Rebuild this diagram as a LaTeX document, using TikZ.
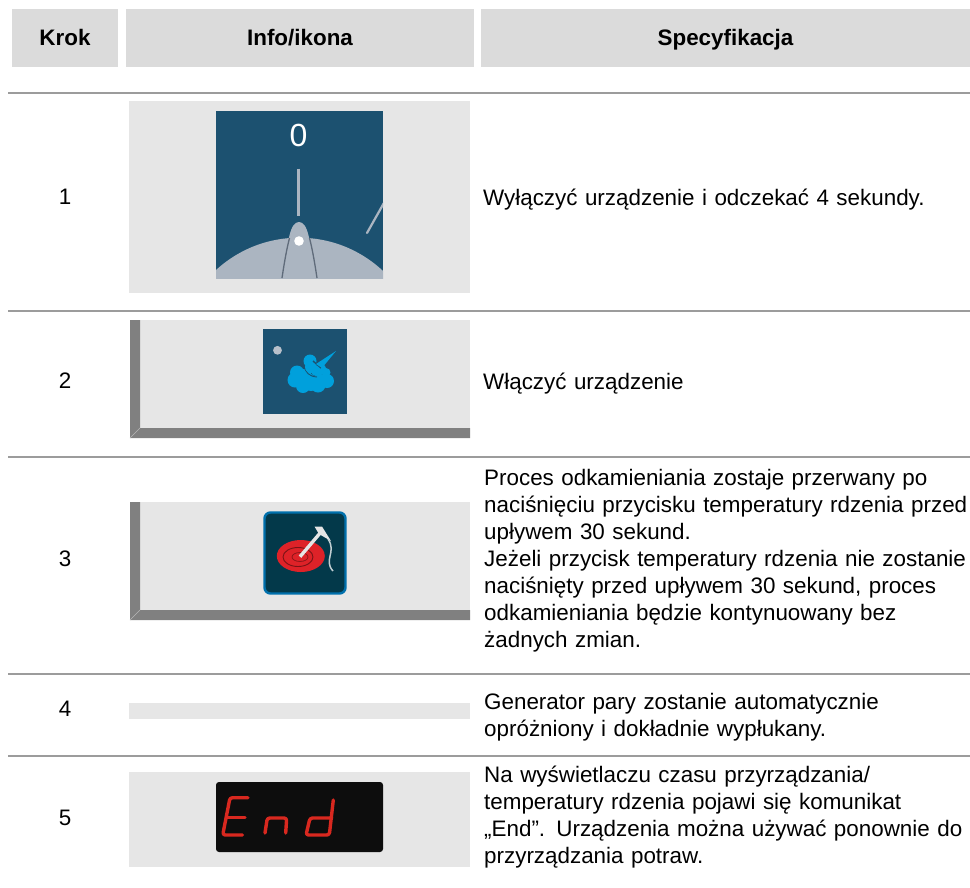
\documentclass[tikz,border=0pt]{standalone}
\usepackage{fontspec}
\setmainfont{Liberation Sans}
\definecolor{headg}{HTML}{DBDBDB}
\definecolor{cellg}{HTML}{E6E6E6}
\definecolor{ruleg}{HTML}{9C9C9C}
\definecolor{barg}{HTML}{808080}
\definecolor{iconb}{HTML}{1C5170}
\definecolor{domeg}{HTML}{ABB5C1}
\definecolor{domel}{HTML}{5F6B7A}
\definecolor{steam}{HTML}{00A0DC}
\definecolor{darkt}{HTML}{03394A}
\definecolor{edgeb}{HTML}{0070AC}
\definecolor{redc}{HTML}{DE2228}
\definecolor{segr}{HTML}{D8281F}
\newcommand{\firstline}{\rule{0pt}{20pt}}
\tikzset{
 headbox/.style={fill=headg,draw=none,minimum height=58pt,inner sep=0pt,text height=18pt,text depth=4pt,font=\fontsize{22.4}{27}\selectfont\bfseries},
 rowrule/.style={draw=ruleg,line width=2.6pt},
 stepnum/.style={font=\fontsize{22.4}{27}\selectfont,inner sep=0pt},
 spec/.style={anchor=north west,align=left,inner sep=0pt,text width=495pt,font=\fontsize{22.4}{27}\selectfont},
 cell/.style={fill=cellg,draw=none},
 bar/.style={fill=barg,draw=none},
 mitre/.style={draw=cellg!55!barg,line width=.4pt},
 seg/.style={draw=segr,line width=3.4pt,line cap=round,line join=round,rounded corners=2.5pt}
}
\begin{document}
\begin{tikzpicture}[x=1pt,y=-1pt]
\useasboundingbox (0,0) rectangle (970,887);
\fill[white] (0,0) rectangle (970,887);
% header
\node[headbox,minimum width=106pt] (hk) at (65,38) {Krok};
\node[headbox,minimum width=348pt] (hi) at (300,38) {Info/ikona};
\node[headbox,minimum width=489pt] (hs) at (725.5,38) {Specyfikacja};
% rules
\draw[rowrule] (8,93) -- (970,93);
\draw[rowrule] (8,311) -- (970,311);
\draw[rowrule] (8,457) -- (970,457);
\draw[rowrule] (8,674) -- (970,674);
\draw[rowrule] (8,756) -- (970,756);
% step numbers
\node[stepnum] (s1) at (65,197) {1};
\node[stepnum] (s2) at (65,381) {2};
\node[stepnum] (s3) at (65,559) {3};
\node[stepnum] (s4) at (65,709) {4};
\node[stepnum] (s5) at (65,818) {5};
% cell 1
\fill[cell] (129,101) rectangle (470,293);
\fill[iconb] (216,111) rectangle (383,278);
\begin{scope}
\clip (216,111) rectangle (383,278);
\fill[domeg] (299,360.5) circle (122.8);
\fill[domeg] (282,278) .. controls (288,240) and (290,222) .. (299,222) .. controls (308,222) and (310,240) .. (316,278) -- cycle;
\draw[domel,line width=1.3pt] (282,278) .. controls (285,258) and (287,248) .. (289.5,238);
\draw[domel,line width=1.3pt] (317,278) .. controls (314,258) and (312,248) .. (309.5,238);
\fill[white] (299,241) circle (4.8);
\draw[domeg,line width=2.2pt] (298.5,168.5) -- (298.5,215.5);
\draw[domeg,line width=2.2pt,line cap=round] (367,233) -- (385,201);
\end{scope}
\node[text=white,inner sep=0pt,font=\fontsize{32}{32}\selectfont] (zero) at (298.5,135) {0};
% cell 2
\fill[cell] (130,320) rectangle (470,438);
\fill[bar] (130,320) -- (140,320) -- (140,428) -- (470,428) -- (470,438) -- (130,438) -- cycle;
\draw[mitre] (130,438) -- (140,428);
\fill[iconb] (263,329) rectangle (347,414);
\fill[domeg!85!white] (277.5,350.3) circle (4.4);
\begin{scope}[steam]
\fill (297,372.5) circle (7);
\fill (295,380) circle (7.5);
\fill (303,379) circle (10);
\fill (303,386) circle (7);
\fill (311,383) circle (8);
\fill (318,385) circle (7.5);
\fill (327,381) circle (7);
\fill (320,380) circle (6);
\end{scope}
\draw[iconb,line width=.9pt] (304.5,366) .. controls (305,372) and (309,376.5) .. (317,377);
\begin{scope}[steam]
\fill (310,361) circle (6.5);
\fill (311,367) circle (6);
\fill (321,369.5) circle (5.5);
\fill (326,372.5) circle (4.5);
\fill (316,371) circle (5);
\end{scope}
\draw[iconb,line width=1.4pt] (313,361) -- (321,368);
\fill[steam] (316,364) -- (336,351) -- (322,368) -- cycle;
% cell 3
\fill[cell] (130,502) rectangle (470,620);
\fill[bar] (130,502) -- (140,502) -- (140,610) -- (470,610) -- (470,620) -- (130,620) -- cycle;
\draw[mitre] (130,620) -- (140,610);
\draw[fill=darkt,draw=edgeb,line width=2.4pt,rounded corners=6pt] (264.5,512.5) rectangle (345.5,593.5);
\fill[redc] (300.8,556) ellipse (24 and 16);
\draw[redc!55!black,line width=.9pt] (298,557) ellipse (15 and 9.5);
\draw[redc!65!black,line width=.8pt] (300,557) ellipse (8 and 4.5);
\draw[white!90!black,line width=3.4pt] (300,556.7) -- (321,532);
\fill[white!90!black] (314.5,526.5) -- (322,526.5) -- (331,541) -- (319,534) -- cycle;
\draw[white!75!darkt,line width=1.5pt] (328,539) .. controls (337,552) and (323,560) .. (333,571);
% cell 4
\fill[cell] (129,703) rectangle (470,719);
% cell 5
\fill[cell] (129,772) rectangle (470,867);
\fill[black!95!white,rounded corners=3pt] (216,782) rectangle (383,852);
\draw[seg] (248,797.7) -- (230,797.7) -- (222.7,835) -- (242.5,835);
\draw[seg,rounded corners=0pt] (226.7,817.3) -- (245,817.3);
\draw[seg] (265,833) -- (267.3,818) -- (286.7,818) -- (285.7,833);
\draw[seg] (333.3,800) -- (329.3,835) -- (306,835) -- (310,818) -- (331.7,818);
% specs
\node[spec] (t1) at (483,185) {\firstline Wyłączyć urządzenie i odczekać 4 sekundy.};
\node[spec] (t2) at (483,369) {\firstline Włączyć urządzenie};
\node[spec] (t3) at (484,465) {\firstline Proces odkamieniania zostaje przerwany po\\naciśnięciu przycisku temperatury rdzenia przed\\upływem 30 sekund.\\Jeżeli przycisk temperatury rdzenia nie zostanie\\naciśnięty przed upływem 30 sekund, proces\\odkamieniania będzie kontynuowany bez\\żadnych zmian.};
\node[spec] (t4) at (484,689) {\firstline Generator pary zostanie automatycznie\\opróżniony i dokładnie wypłukany.};
\node[spec] (t5) at (484,762) {\firstline Na wyświetlaczu czasu przyrządzania/\\temperatury rdzenia pojawi się komunikat\\„End”. Urządzenia można używać ponownie do\\przyrządzania potraw.};
\end{tikzpicture}
\end{document}
